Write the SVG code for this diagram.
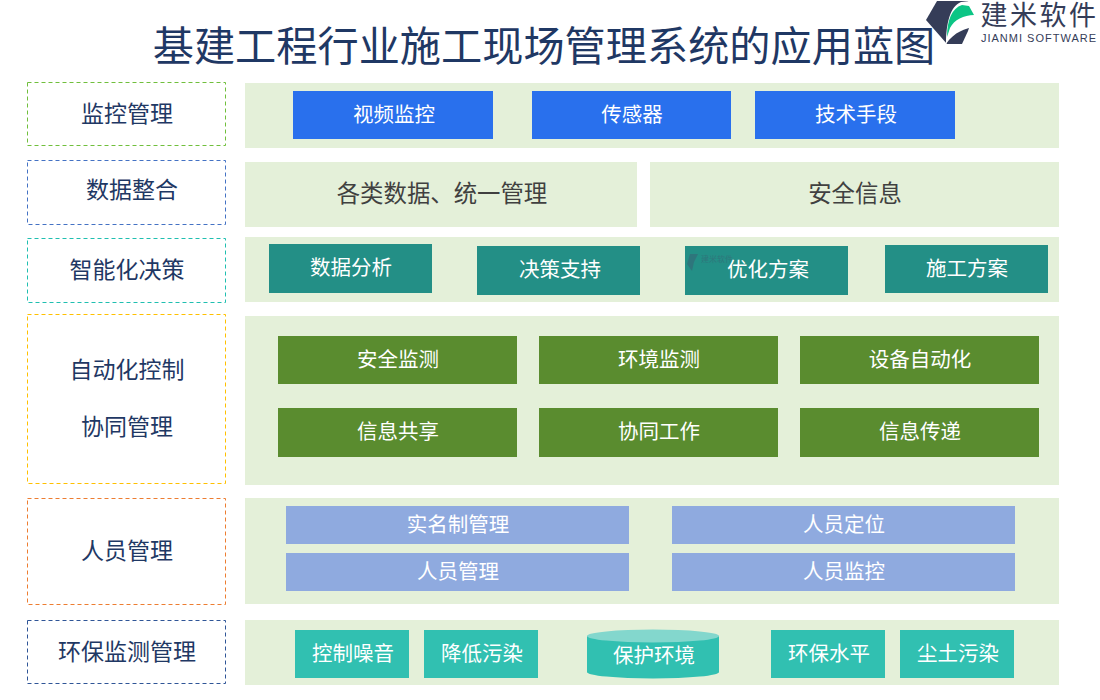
<svg xmlns="http://www.w3.org/2000/svg" width="1100" height="700" viewBox="0 0 1100 700">
<style>
text{font-family:"Liberation Serif","Noto Sans CJK SC",serif;text-anchor:middle}
.lb{font-size:23px;fill:#1f3864}
.w{font-size:20.500px;fill:#fff}
.d{font-size:23.400px;fill:#404040}
.bg{fill:#e4f0d9}
.f{fill:none;stroke-width:1;stroke-dasharray:4 3}
.blue{fill:#2970ed}.teal{fill:#238f86}.green{fill:#5a8c2f}.peri{fill:#8faadf}.aqua{fill:#31c0b1}
</style>
<rect width="1100" height="700" fill="#fff"/>
<g id="logo">
<path d="M937 1H968L974 13 968 31 962 44H947L926 20Z" fill="#353d58"/>
<path d="M946 44C946 24 950 6 961 2L970 1 977 14 974 27C966 28 954 32 946 44Z" fill="#fff"/>
<path d="M947 37C947 20 952 8 962 5L969 6 974 15C964 15 954 20 950 28Z" fill="#0cc585"/>
<text x="1039.500" y="25" font-size="27" fill="#353d58" style="font-family:'Noto Sans CJK SC',sans-serif" letter-spacing="2.500">建米软件</text>
<text x="1039" y="42" font-size="11" fill="#353d58" style="font-family:'Liberation Sans',sans-serif" letter-spacing="1">JIANMI SOFTWARE</text>
</g>
<text id="title" x="544" y="61" font-size="41.200" fill="#1f3864">基建工程行业施工现场管理系统的应用蓝图</text>
<g id="bands">
<rect class="bg" x="245" y="83" width="814" height="65"/>
<rect class="bg" x="245" y="162" width="392" height="65"/>
<rect class="bg" x="650" y="162" width="409" height="65"/>
<rect class="bg" x="245" y="237" width="814" height="65"/>
<rect class="bg" x="245" y="316" width="814" height="169"/>
<rect class="bg" x="245" y="498" width="814" height="106"/>
<rect class="bg" x="245" y="620" width="814" height="65"/>
</g>
<g id="n-jkgl"><rect class="f" x="27.500" y="82.500" width="198" height="63" stroke="#70bf3c"/><text class="lb" x="127" y="122">监控管理</text></g>
<g id="n-sjzh"><rect class="f" x="27.500" y="160.500" width="198" height="64" stroke="#4472c4"/><text class="lb" x="132" y="198">数据整合</text></g>
<g id="n-znh"><rect class="f" x="27.500" y="238.500" width="198" height="64" stroke="#1fbfb0"/><text class="lb" x="127" y="278">智能化决策</text></g>
<g id="n-zdh"><rect class="f" x="27.500" y="314.500" width="198" height="169" stroke="#ffc000"/><text class="lb" x="127" y="378">自动化控制</text><text class="lb" x="127" y="435">协同管理</text></g>
<g id="n-rygl"><rect class="f" x="27.500" y="498.500" width="198" height="106" stroke="#ed7d31"/><text class="lb" x="127" y="559">人员管理</text></g>
<g id="n-hb"><rect class="f" x="27.500" y="620.500" width="198" height="63" stroke="#2f5597"/><text class="lb" x="127" y="660">环保监测管理</text></g>
<g id="n1"><rect class="blue" x="293" y="91" width="200" height="48"/><text class="w" x="394" y="122">视频监控</text></g>
<g id="n2"><rect class="blue" x="532" y="91" width="199" height="48"/><text class="w" x="632" y="122">传感器</text></g>
<g id="n3"><rect class="blue" x="755" y="91" width="200" height="48"/><text class="w" x="856" y="122">技术手段</text></g>
<g id="n4"><text class="d" x="442" y="202">各类数据、统一管理</text></g>
<g id="n5"><text class="d" x="855" y="202">安全信息</text></g>
<g id="n6"><rect class="teal" x="269" y="244" width="163" height="49"/><text class="w" x="351" y="275">数据分析</text></g>
<g id="n7"><rect class="teal" x="477" y="246" width="163" height="49"/><text class="w" x="560" y="277">决策支持</text></g>
<g id="n8"><rect class="teal" x="685" y="246" width="163" height="49"/><text class="w" x="768" y="277">优化方案</text>
<g opacity=".45"><path d="M690 254H698L694 262 692 271 687 264Z" fill="#3c5a70"/><text x="717" y="262" font-size="8" fill="#3c5a70" style="font-family:'Noto Sans CJK SC',sans-serif">建米软件</text></g></g>
<g id="n9"><rect class="teal" x="885" y="245" width="163" height="48"/><text class="w" x="967" y="276">施工方案</text></g>
<g id="n10"><rect class="green" x="278" y="336" width="239" height="48"/><text class="w" x="398" y="367">安全监测</text></g>
<g id="n11"><rect class="green" x="539" y="336" width="239" height="48"/><text class="w" x="659" y="367">环境监测</text></g>
<g id="n12"><rect class="green" x="800" y="336" width="239" height="48"/><text class="w" x="920" y="367">设备自动化</text></g>
<g id="n13"><rect class="green" x="278" y="408" width="239" height="49"/><text class="w" x="398" y="439">信息共享</text></g>
<g id="n14"><rect class="green" x="539" y="408" width="239" height="49"/><text class="w" x="659" y="439">协同工作</text></g>
<g id="n15"><rect class="green" x="800" y="408" width="239" height="49"/><text class="w" x="920" y="439">信息传递</text></g>
<g id="n16"><rect class="peri" x="286" y="506" width="343" height="38"/><text class="w" x="458" y="532">实名制管理</text></g>
<g id="n17"><rect class="peri" x="672" y="506" width="343" height="38"/><text class="w" x="844" y="532">人员定位</text></g>
<g id="n18"><rect class="peri" x="286" y="553" width="343" height="38"/><text class="w" x="458" y="579">人员管理</text></g>
<g id="n19"><rect class="peri" x="672" y="553" width="343" height="38"/><text class="w" x="844" y="579">人员监控</text></g>
<g id="n20"><rect class="aqua" x="295" y="630" width="114" height="48"/><text class="w" x="353" y="661">控制噪音</text></g>
<g id="n21"><rect class="aqua" x="424" y="630" width="114" height="48"/><text class="w" x="482" y="661">降低污染</text></g>
<g id="n22"><path class="aqua" d="M587 636V672A66 6.500 0 0 0 719 672V636Z"/><ellipse cx="653" cy="636" rx="66" ry="6.500" fill="#83d7cd"/><text class="w" x="654" y="663">保护环境</text></g>
<g id="n23"><rect class="aqua" x="771" y="630" width="114" height="48"/><text class="w" x="829" y="661">环保水平</text></g>
<g id="n24"><rect class="aqua" x="900" y="630" width="114" height="48"/><text class="w" x="958" y="661">尘土污染</text></g>
<g id="connectors"/>
</svg>
